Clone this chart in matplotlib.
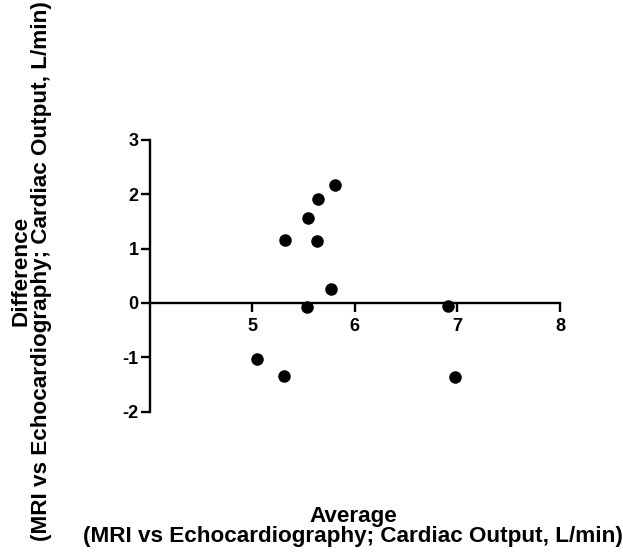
import matplotlib
matplotlib.use("Agg")
from matplotlib import pyplot as plt

plt.rcParams["font.family"] = ["Liberation Sans", "DejaVu Sans"]
plt.rcParams["font.weight"] = "bold"
plt.rcParams["axes.unicode_minus"] = False

# Bland-Altman data: average vs difference (L/min)
average = [5.05, 5.31, 5.32, 5.54, 5.64, 5.63, 5.81, 5.77, 5.53, 6.91, 6.98]
difference = [-1.03, -1.35, 1.15, 1.56, 1.92, 1.14, 2.18, 0.25, -0.07, -0.05, -1.37]

x_ticks = [5, 6, 7, 8]
y_ticks = [-2, -1, 0, 1, 2, 3]

fig = plt.figure(figsize=(6.23, 5.54), dpi=100)
ax = fig.add_axes([0.2400, 0.2570, 0.6590, 0.4903])

ax.plot(average, difference, "o", color="black", markersize=8, clip_on=False, zorder=3)

ax.set_xlim(4, 8)
ax.set_ylim(-2, 3)
ax.set_xticks(x_ticks)
ax.set_yticks(y_ticks)

ax.spines["top"].set_visible(False)
ax.spines["right"].set_visible(False)
ax.spines["bottom"].set_position(("data", 0))
for s in ("left", "bottom"):
    ax.spines[s].set_linewidth(1.7)
    ax.spines[s].set_capstyle("projecting")

ax.tick_params(axis="both", width=1.7, length=6.5, labelsize=13, direction="out")
ax.tick_params(axis="x", pad=4)
ax.tick_params(axis="y", pad=1.5)
for lab in ax.get_xticklabels() + ax.get_yticklabels():
    lab.set_fontweight("bold")

fig.text(0.567, 0.050, "Average\n(MRI vs Echocardiography; Cardiac Output, L/min)",
         ha="center", va="center", fontsize=16.2, fontweight="bold", linespacing=0.92)
fig.text(0.050, 0.511, "Difference\n(MRI vs Echocardiography; Cardiac Output, L/min)",
         ha="center", va="center", rotation=90, fontsize=16.2, fontweight="bold",
         linespacing=0.92)

fig.savefig("out.png", dpi=100)
